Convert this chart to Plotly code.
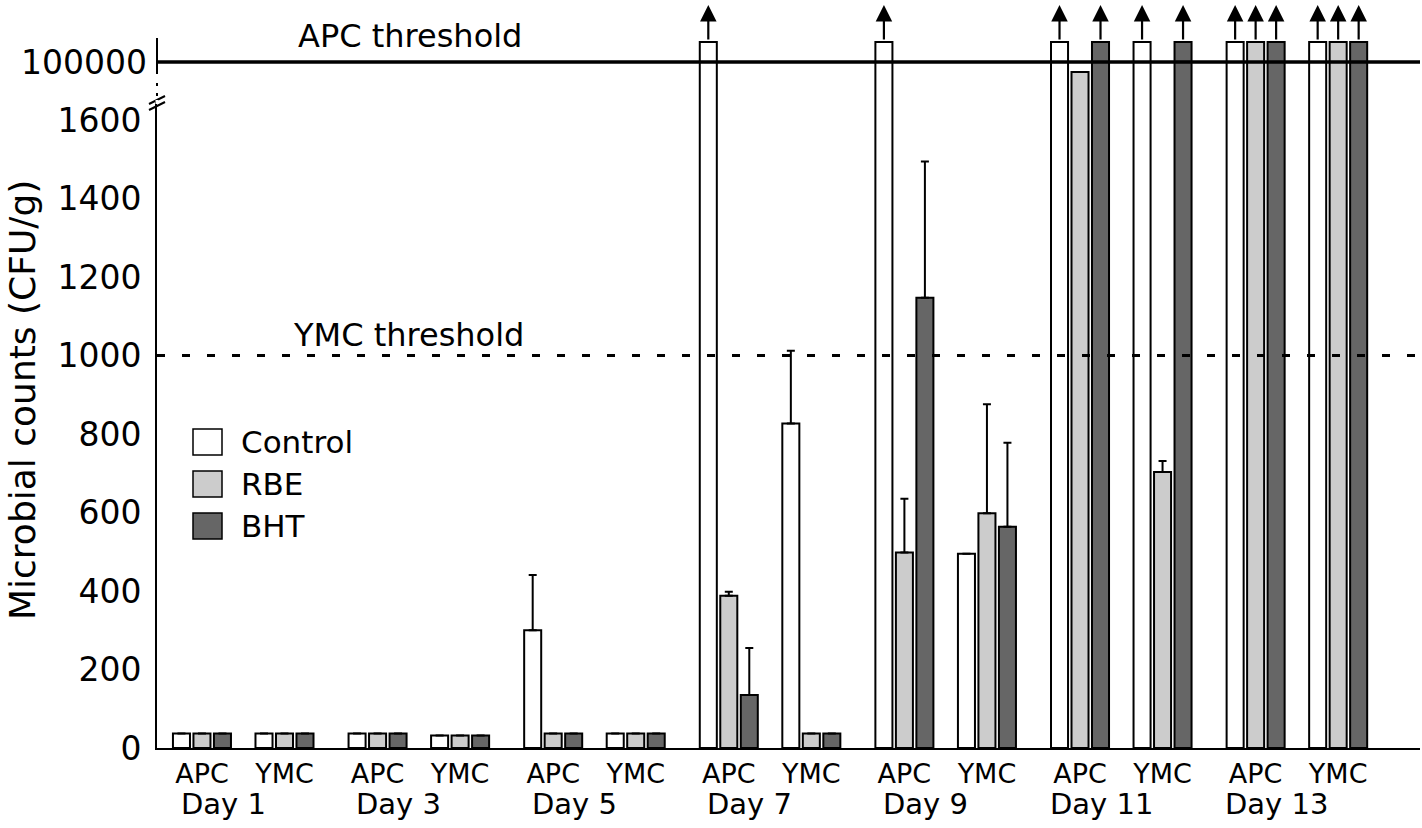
import plotly.graph_objects as go

# ---------------- data ----------------
days = ["Day 1", "Day 3", "Day 5", "Day 7", "Day 9", "Day 11", "Day 13"]
measures = ["APC", "YMC"]
series_names = ["Control", "RBE", "BHT"]

OVER = 105000  # count exceeds the APC threshold (drawn past the top, with arrow)
APC_THRESHOLD = 100000
YMC_THRESHOLD = 1000

# order: Day1 APC, Day1 YMC, Day3 APC, Day3 YMC, ...
control = [37, 37, 37, 32, 300, 37, OVER, 827, OVER, 495, OVER, OVER, OVER, OVER]
rbe = [37, 37, 37, 32, 37, 37, 388, 37, 498, 598, 97500, 703, OVER, OVER]
bht = [37, 37, 37, 32, 37, 37, 135, 37, 1147, 564, OVER, OVER, OVER, OVER]

control_err = [0, 0, 0, 0, 141, 0, 0, 185, 0, 0, 0, 0, 0, 0]
rbe_err = [0, 0, 0, 0, 0, 0, 10, 0, 137, 278, 0, 28, 0, 0]
bht_err = [0, 0, 0, 0, 0, 0, 120, 0, 347, 214, 0, 0, 0, 0]

y_ticks = [0, 200, 400, 600, 800, 1000, 1200, 1400, 1600]

# ---------------- layout constants ----------------
W, H = 1422, 828
ML, MR, MT, MB = 157, 2, 38, 80
PW, PH = W - ML - MR, H - MT - MB
SPLIT_PX = 100                      # pixel row of the axis break
SPLIT = (H - MB - SPLIT_PX) / PH    # paper fraction
PX_PER_UNIT_LOW = (H - MB - 120) / 1600.0
LOW_TOP = (H - MB - SPLIT_PX) / PX_PER_UNIT_LOW
UP_PX_UNIT = 250.0                  # counts per pixel in the upper segment
Y100K_PX = 62
UP_BOTTOM = APC_THRESHOLD - (SPLIT_PX - Y100K_PX) * UP_PX_UNIT
UP_TOP = APC_THRESHOLD + (Y100K_PX - MT) * UP_PX_UNIT

DAY_STEP = 1.0
PAIR_OFFSET = 0.47
SLOT = 0.1167
BAR_W = 0.097
X_RANGE = [-0.256, 6.936]
DAY_LABEL_SHIFT = 0.12

FONT = "DejaVu Sans"
fills = ["#ffffff", "#cccccc", "#666666"]


def px_x(px):
    return (px - ML) / PW


def px_y(py):
    return (H - MB - py) / PH


xpos = []
for d in range(len(days)):
    for m in range(len(measures)):
        xpos.append(d * DAY_STEP + m * PAIR_OFFSET)

values = [control, rbe, bht]
errors = [control_err, rbe_err, bht_err]

fig = go.Figure()
for i, name in enumerate(series_names):
    off = (i - 1) * SLOT - BAR_W / 2
    err = [e if e > 0 else None for e in errors[i]]
    fig.add_trace(go.Bar(
        x=xpos, y=values[i], name=name, yaxis="y", xaxis="x",
        width=BAR_W, offset=off,
        marker=dict(color=fills[i], line=dict(color="#000000", width=2)),
        error_y=dict(type="data", symmetric=False, array=err,
                     arrayminus=[0] * len(err), color="#000000",
                     thickness=2, width=4),
        showlegend=False,
    ))
    fig.add_trace(go.Bar(
        x=xpos, y=values[i], name=name, yaxis="y2", xaxis="x",
        width=BAR_W, offset=off,
        marker=dict(color=fills[i], line=dict(color="#000000", width=2)),
        showlegend=False,
    ))

shapes = []
annotations = []

# threshold lines
shapes.append(dict(type="line", xref="paper", yref="y2", x0=0, x1=1,
                   y0=APC_THRESHOLD, y1=APC_THRESHOLD,
                   line=dict(color="#000000", width=3.5), layer="above"))
shapes.append(dict(type="line", xref="paper", yref="y", x0=0, x1=1,
                   y0=YMC_THRESHOLD, y1=YMC_THRESHOLD,
                   line=dict(color="#000000", width=3, dash="8px,17px"),
                   layer="above"))

# upper y axis line + break marks
shapes.append(dict(type="line", xref="paper", yref="paper", x0=0, x1=0,
                   y0=px_y(74), y1=px_y(38),
                   line=dict(color="#000000", width=2)))
shapes.append(dict(type="line", xref="paper", yref="paper", x0=0, x1=0,
                   y0=px_y(96), y1=px_y(76),
                   line=dict(color="#000000", width=2, dash="3px,7px")))
for dy in (0, 6):
    shapes.append(dict(type="line", xref="paper", yref="paper",
                       xsizemode="pixel", ysizemode="pixel",
                       xanchor=0, yanchor=px_y(106 - dy),
                       x0=-8, x1=8, y0=-4, y1=4,
                       line=dict(color="#000000", width=2)))
shapes.append(dict(type="line", xref="paper", yref="paper", x0=0, x1=0,
                   y0=px_y(104), y1=px_y(100),
                   line=dict(color="#ffffff", width=3)))

# arrows for counts above threshold
for i in range(len(series_names)):
    for k, v in enumerate(values[i]):
        if v > APC_THRESHOLD:
            annotations.append(dict(
                x=xpos[k] + (i - 1) * SLOT, xref="x",
                y=px_y(5), yref="paper",
                ax=0, ay=36, text="", showarrow=True,
                arrowhead=2, arrowsize=1.5, arrowwidth=2.2,
                arrowcolor="#000000", standoff=0))


def label(x, y, text, size, xref="paper", yref="paper", xanchor="center",
          textangle=0):
    return dict(x=x, y=y, xref=xref, yref=yref, text=text, showarrow=False,
                xanchor=xanchor, yanchor="middle", textangle=textangle,
                font=dict(family=FONT, size=size, color="#000000"))


# threshold texts
annotations.append(label(px_x(410), px_y(36), "APC threshold", 32))
annotations.append(label(px_x(408), px_y(335), "YMC threshold", 32))

# day labels
for d, lab in enumerate(days):
    annotations.append(label(d * DAY_STEP + DAY_LABEL_SHIFT, px_y(804), lab, 29,
                             xref="x"))

# y axis title
annotations.append(label(px_x(22), px_y(400), "Microbial counts (CFU/g)", 36,
                         textangle=-90))

# legend (manual, large swatches)
for i, name in enumerate(series_names):
    top = 429 + i * 42
    shapes.append(dict(type="rect", xref="paper", yref="paper",
                       x0=px_x(193), x1=px_x(222), y0=px_y(top + 26), y1=px_y(top),
                       fillcolor=fills[i], line=dict(color="#000000", width=1.5)))
    annotations.append(label(px_x(239), px_y(top + 13), name, 31, xanchor="left"))

tickvals_x = xpos
ticktext_x = [m for _ in days for m in measures]

fig.update_layout(
    width=W, height=H,
    margin=dict(l=ML, r=MR, t=MT, b=MB, autoexpand=False),
    paper_bgcolor="#ffffff", plot_bgcolor="#ffffff",
    barmode="overlay",
    showlegend=False,
    font=dict(family=FONT, color="#000000"),
    xaxis=dict(range=X_RANGE, showgrid=False, zeroline=False, automargin=False,
               showline=True, linecolor="#000000", linewidth=2,
               tickvals=tickvals_x, ticktext=ticktext_x, ticks="",
               tickfont=dict(family=FONT, size=27, color="#000000"),
               ticklabelstandoff=1, anchor="y"),
    yaxis=dict(domain=[0, SPLIT], range=[0, LOW_TOP], showgrid=False,
               zeroline=False, showline=True, linecolor="#000000", linewidth=2,
               automargin=False,
               tickvals=y_ticks, ticktext=[str(t) for t in y_ticks], ticks="",
               tickfont=dict(family=FONT, size=33, color="#000000"),
               ticklabelstandoff=7, anchor="x"),
    yaxis2=dict(domain=[SPLIT, 1], range=[UP_BOTTOM, UP_TOP], showgrid=False,
                zeroline=False, showline=False, automargin=False,
                tickvals=[APC_THRESHOLD], ticktext=["100000"], ticks="",
                tickfont=dict(family=FONT, size=33, color="#000000"),
                ticklabelstandoff=9, anchor="x"),
    shapes=shapes,
    annotations=annotations,
)

fig.write_html("out.html",
               config={"displayModeBar": False},
               post_script="document.body.style.margin='0px';"
                           "document.body.style.overflow='hidden';")
